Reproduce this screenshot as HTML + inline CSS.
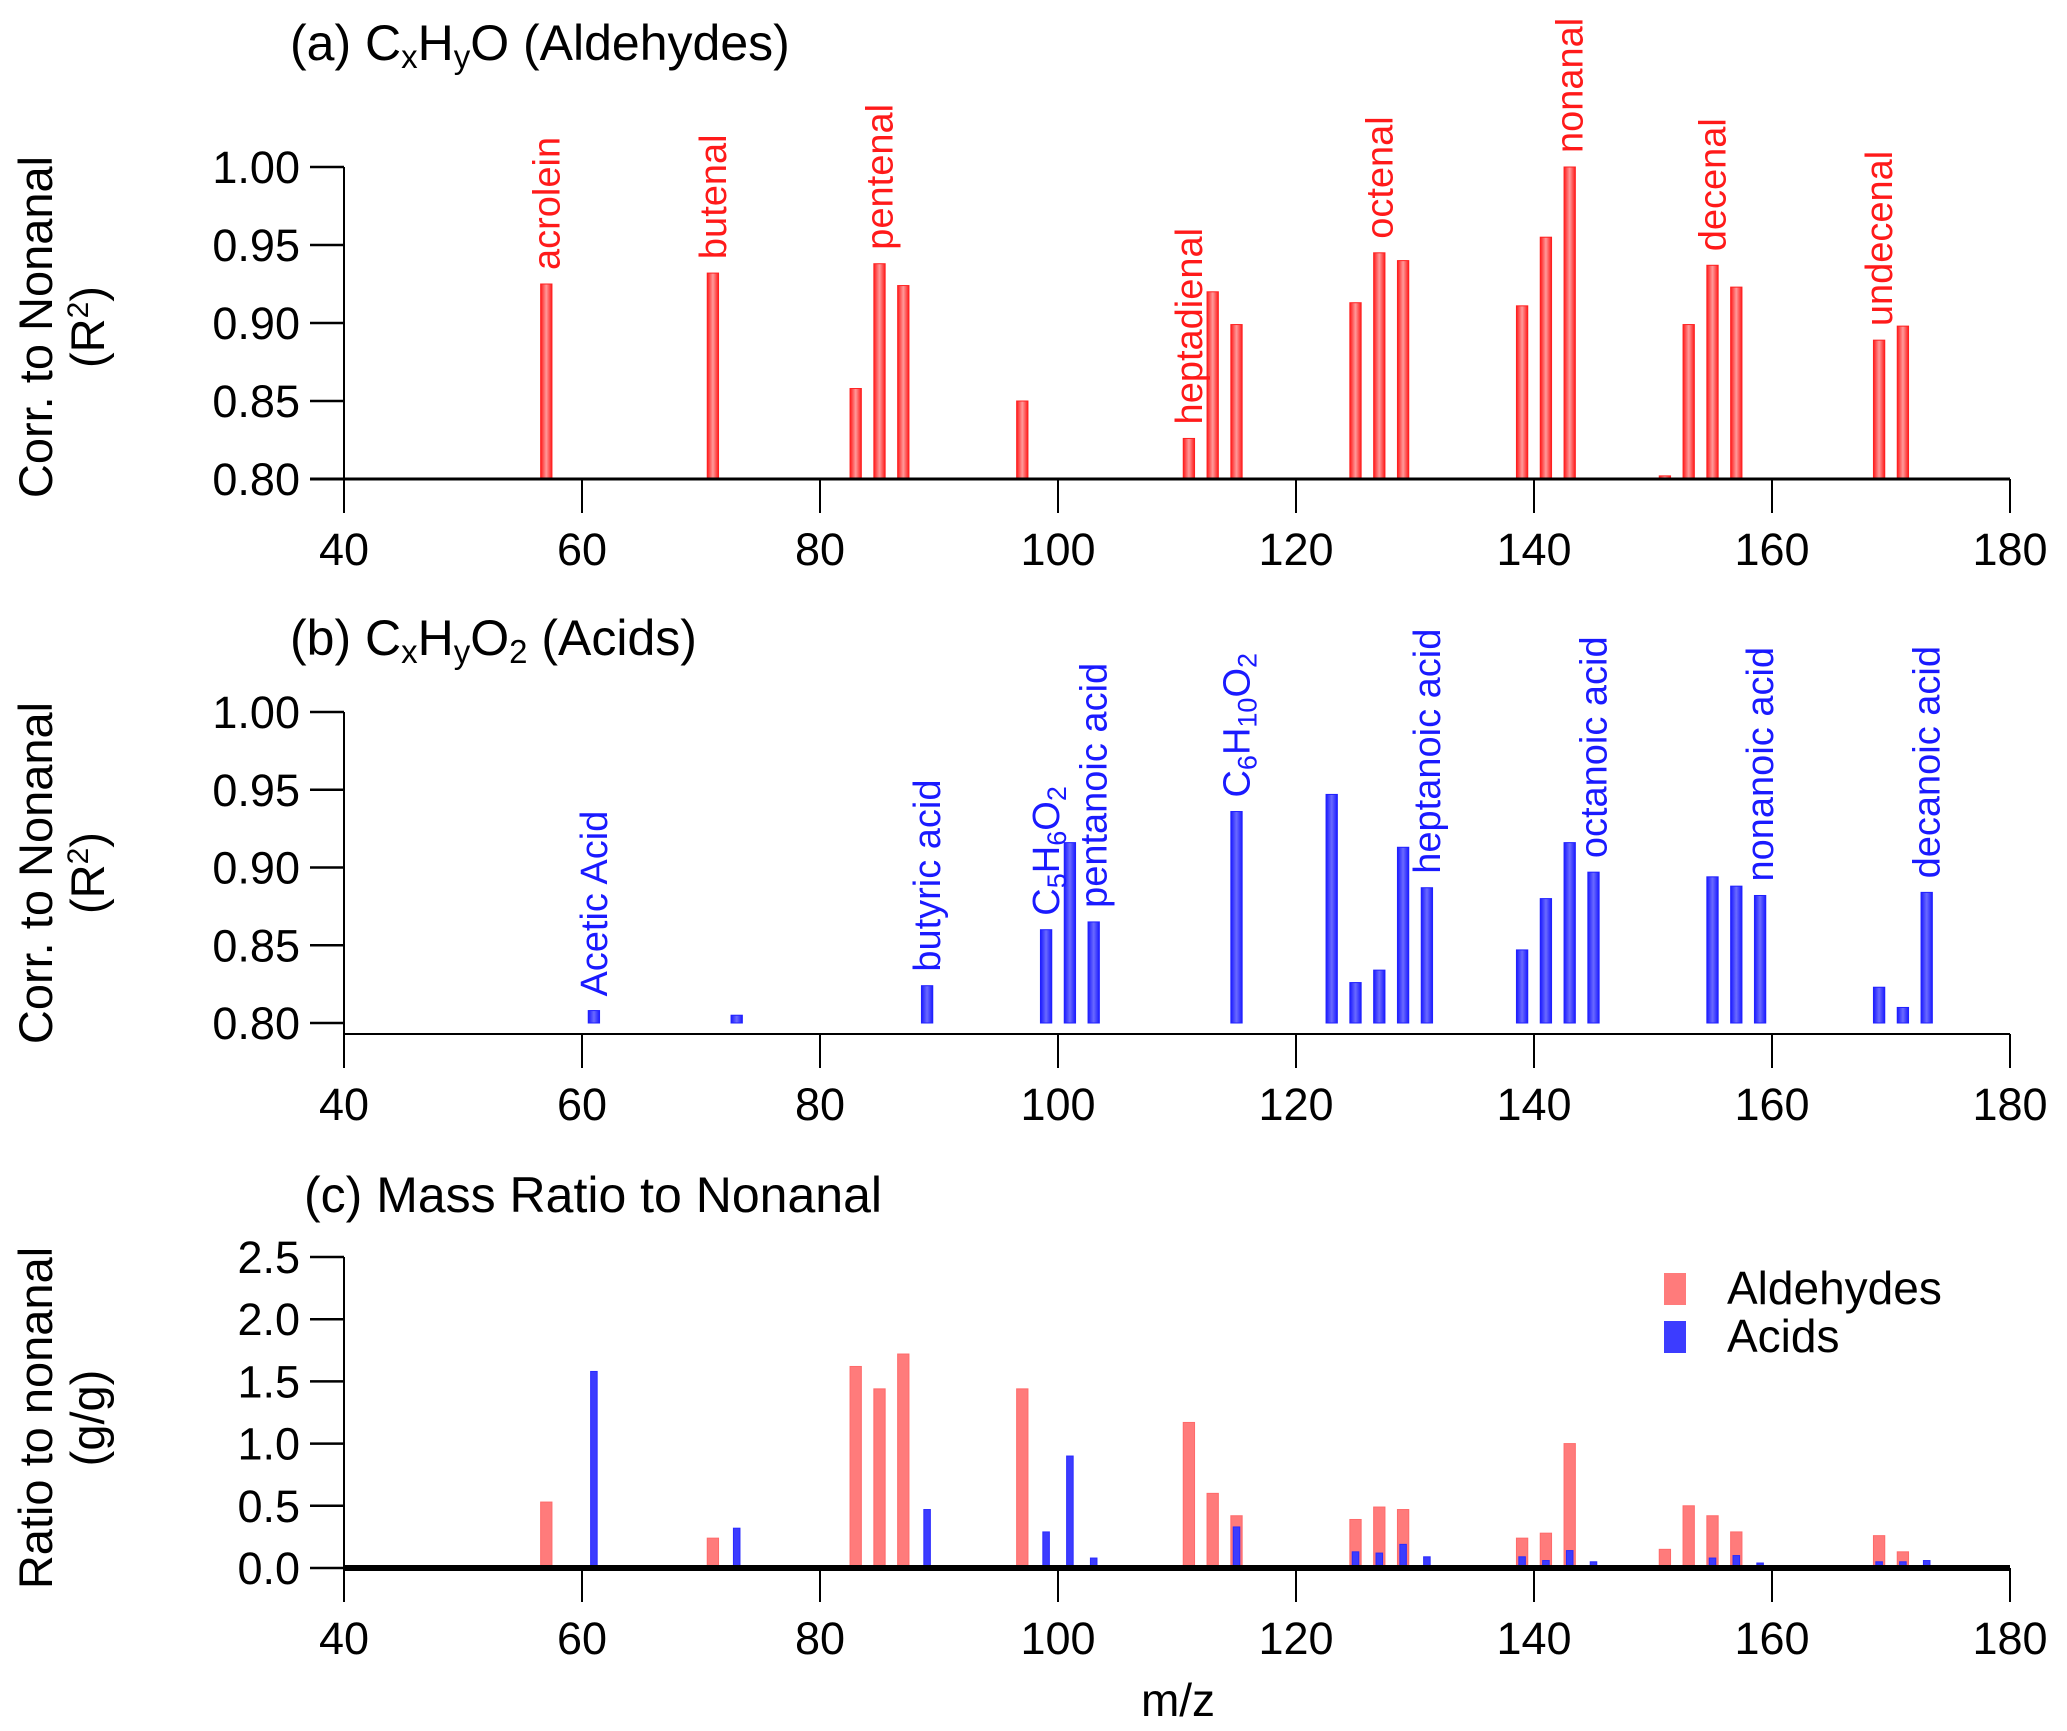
<!DOCTYPE html>
<html><head><meta charset="utf-8"><style>
html,body{margin:0;padding:0;background:#fff}
svg{display:block}
text{font-family:"Liberation Sans",Arial,sans-serif;}
</style></head><body>
<svg id="chart" width="2067" height="1731" viewBox="0 0 2067 1731" xmlns="http://www.w3.org/2000/svg">
<defs>
<linearGradient id="redg" x1="0" x2="1" y1="0" y2="0">
<stop offset="0" stop-color="#ff1a1a"/><stop offset="0.5" stop-color="#ff9a9a"/><stop offset="1" stop-color="#ff1a1a"/>
</linearGradient>
<linearGradient id="blueg" x1="0" x2="1" y1="0" y2="0">
<stop offset="0" stop-color="#1a1aff"/><stop offset="0.5" stop-color="#6a6aff"/><stop offset="1" stop-color="#1a1aff"/>
</linearGradient>
</defs>
</svg>
<script>
// Panel (a) aldehydes correlation
const aMz = [57,71,83,85,87,97,111,113,115,125,127,129,139,141,143,151,153,155,157,169,171];
const aR2 = [0.925,0.932,0.858,0.938,0.924,0.850,0.826,0.920,0.899,0.913,0.945,0.940,0.911,0.955,1.000,0.802,0.899,0.937,0.923,0.889,0.898];
const aLabelMz = [57,71,85,111,127,143,155,169];
const aLabels = ["acrolein","butenal","pentenal","heptadienal","octenal","nonanal","decenal","undecenal"];
// Panel (b) acids correlation
const bMz = [61,73,89,99,101,103,115,123,125,127,129,131,139,141,143,145,155,157,159,169,171,173];
const bR2 = [0.808,0.805,0.824,0.860,0.916,0.865,0.936,0.947,0.826,0.834,0.913,0.887,0.847,0.880,0.916,0.897,0.894,0.888,0.882,0.823,0.810,0.884];
const bLabelMz = [61,89,99,103,115,131,145,159,173];
const bLabels = ["Acetic Acid","butyric acid","C5H6O2","pentanoic acid","C6H10O2","heptanoic acid","octanoic acid","nonanoic acid","decanoic acid"];
// Panel (c) mass ratio
const cAldMz = [57,71,83,85,87,97,111,113,115,125,127,129,139,141,143,151,153,155,157,169,171];
const cAldVal = [0.53,0.24,1.62,1.44,1.72,1.44,1.17,0.60,0.42,0.39,0.49,0.47,0.24,0.28,1.00,0.15,0.50,0.42,0.29,0.26,0.13];
const cAcidMz = [61,73,89,99,101,103,115,125,127,129,131,139,141,143,145,155,157,159,169,171,173];
const cAcidVal = [1.58,0.32,0.47,0.29,0.90,0.08,0.33,0.13,0.12,0.19,0.09,0.09,0.06,0.14,0.05,0.08,0.10,0.04,0.05,0.05,0.06];
const xTicks = [40,60,80,100,120,140,160,180];
const corrTicks = ["0.80","0.85","0.90","0.95","1.00"];
const ratioTicks = ["0.0","0.5","1.0","1.5","2.0","2.5"];

const svg = document.getElementById('chart');
const NS = 'http://www.w3.org/2000/svg';
function mk(tag, attrs, parent){const e=document.createElementNS(NS,tag);for(const k in attrs)e.setAttribute(k,attrs[k]);(parent||svg).appendChild(e);return e;}
const X0=344, X1=2010;
const x = v => X0 + (v-40)/(180-40)*(X1-X0);
const unit = (X1-X0)/140;

function yScale(top,bot,vmin,vmax){return v => bot - (v-vmin)/(vmax-vmin)*(bot-top);}

function axes(g, y, ticks, axisY, tickTop, vLineTop, vLineBot, name){
  const va = mk('line',{x1:X0,x2:X0,y1:vLineTop,y2:vLineBot,stroke:'#000','stroke-width':2},g);
  
  
  ticks.forEach(t=>{
    const yy=y(parseFloat(t));
    const tl=mk('line',{x1:X0-34,x2:X0,y1:yy,y2:yy,stroke:'#000','stroke-width':2.5},g);
    
    
    const tx=mk('text',{x:X0-44,y:yy+16,'font-size':45,'text-anchor':'end',fill:'#000'},g);
    tx.textContent=t;
    
    
  });
  xTicks.forEach(t=>{
    const xx=x(t);
    const tl=mk('line',{x1:xx,x2:xx,y1:tickTop,y2:tickTop+34,stroke:'#000','stroke-width':2},g);
    
    
    const tx=mk('text',{x:xx,y:tickTop+86,'font-size':45,'text-anchor':'middle',fill:'#000'},g);
    tx.textContent=t;
    
    
  });
}

function bars(g, mz, vals, y, base, w, fill, stroke, name){
  mz.forEach((m,i)=>{
    const yy=y(vals[i]);
    const r=mk('rect',{x:x(m)-w/2,y:yy,width:w,height:Math.max(0,base-yy),fill:fill,stroke:stroke,'stroke-width':1},g);
    
    
  });
}

function sub(textEl, str){
  const parts = str.match(/[A-Za-z]+|\d+/g);
  parts.forEach(p=>{
    const t=mk('tspan',{},textEl);
    if(/^\d+$/.test(p)){t.setAttribute('font-size','27');t.setAttribute('baseline-shift','-25%');}
    t.textContent=p;
  });
}

function vlabels(g, lmz, labels, mz, vals, y, color, name){
  lmz.forEach((m,i)=>{
    const v = vals[mz.indexOf(m)];
    const yy = y(v)-14, xx = x(m)+13;
    const t=mk('text',{x:0,y:0,'font-size':38,fill:color,transform:`translate(${xx},${yy}) rotate(-90)`},g);
    if(/^C\d/.test(labels[i])) sub(t,labels[i]); else t.textContent=labels[i];
    
    
  });
}

function yTitle(g, l1, l2, cy, name){
  const t1=mk('text',{x:0,y:0,'font-size':47,'text-anchor':'middle',transform:`translate(52,${cy}) rotate(-90)`},g);
  t1.textContent=l1;
  
  
  const t2=mk('text',{x:0,y:0,'font-size':47,'text-anchor':'middle',transform:`translate(104,${cy}) rotate(-90)`},g);
  t2.innerHTML=l2;
  
  
}

// Panel a
{
  const g=mk('g',{});
  
  
  const y=yScale(167,479,0.80,1.00);
  bars(g,aMz,aR2,y,479,unit*0.95,'url(#redg)','#ff2020','aldehyde-corr');
  mk('line',{x1:310,x2:X1,y1:479,y2:479,stroke:'#000','stroke-width':3},g);
  axes(g,y,corrTicks,479,479,167,479,'panel-a');
  vlabels(g,aLabelMz,aLabels,aMz,aR2,y,'#ff1a1a','aldehyde');
  yTitle(g,'Corr. to Nonanal','(R<tspan font-size="30" baseline-shift="super">2</tspan>)',327,'panel-a');
  const t=mk('text',{x:290,y:60,'font-size':50},g);
  t.innerHTML='(a) C<tspan font-size="33" baseline-shift="-25%">x</tspan>H<tspan font-size="33" baseline-shift="-25%">y</tspan>O (Aldehydes)';
  
  
}
// Panel b
{
  const g=mk('g',{});
  
  
  const y=yScale(712,1023,0.80,1.00);
  bars(g,bMz,bR2,y,1023,unit*0.95,'url(#blueg)','#2020ff','acid-corr');
  mk('line',{x1:X0,x2:X1,y1:1034,y2:1034,stroke:'#000','stroke-width':2},g);
  axes(g,y,corrTicks,1034,1034,712,1034,'panel-b');
  vlabels(g,bLabelMz,bLabels,bMz,bR2,y,'#1a1aff','acid');
  yTitle(g,'Corr. to Nonanal','(R<tspan font-size="30" baseline-shift="super">2</tspan>)',873,'panel-b');
  const t=mk('text',{x:290,y:655,'font-size':50},g);
  t.innerHTML='(b) C<tspan font-size="33" baseline-shift="-25%">x</tspan>H<tspan font-size="33" baseline-shift="-25%">y</tspan>O<tspan font-size="33" baseline-shift="-25%">2</tspan> (Acids)';
  
  
}
// Panel c
{
  const g=mk('g',{});
  
  
  const y=yScale(1257,1568,0,2.5);
  bars(g,cAldMz,cAldVal,y,1568,unit*0.95,'#ff7b7b','#ff6a6a','aldehyde-ratio');
  bars(g,cAcidMz,cAcidVal,y,1568,unit*0.55,'#3c3cff','#2a2aff','acid-ratio');
  mk('line',{x1:X0,x2:X1,y1:1568,y2:1568,stroke:'#000','stroke-width':6},g);
  axes(g,y,ratioTicks,1568,1568,1257,1568,'panel-c');
  yTitle(g,'Ratio to nonanal','(g/g)',1418,'panel-c');
  const t=mk('text',{x:304,y:1212,'font-size':50},g);
  t.textContent='(c) Mass Ratio to Nonanal';
  
  
  const xl=mk('text',{x:1178,y:1716,'font-size':46,'text-anchor':'middle'},g);
  xl.textContent='m/z';
  
  
  const lg=mk('g',{},g);
  
  
  const s1=mk('rect',{x:1664,y:1273,width:22,height:32,fill:'#ff7b7b'},lg);
  
  
  const l1=mk('text',{x:1727,y:1304,'font-size':46},lg);
  l1.textContent='Aldehydes';
  
  
  const s2=mk('rect',{x:1664,y:1321,width:22,height:32,fill:'#3c3cff'},lg);
  
  
  const l2=mk('text',{x:1727,y:1352,'font-size':46},lg);
  l2.textContent='Acids';
  
  
}
</script>
</body></html>
